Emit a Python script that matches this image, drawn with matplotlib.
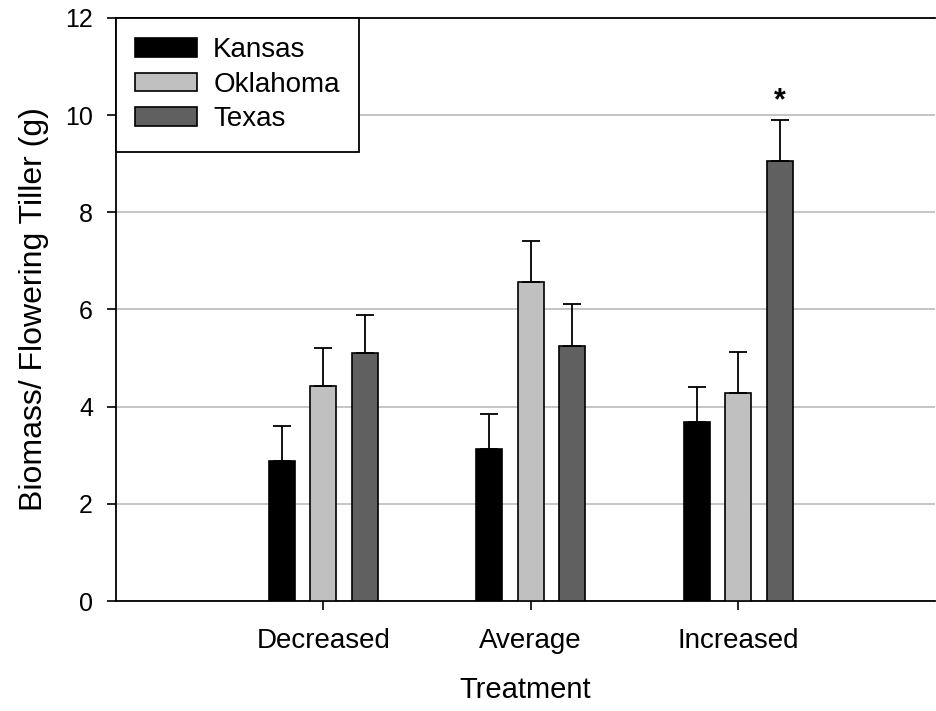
import numpy as np
import matplotlib.pyplot as plt

plt.rcParams['font.family'] = ['Liberation Sans', 'DejaVu Sans']

treatments = ["Decreased", "Average", "Increased"]
states = ["Kansas", "Oklahoma", "Texas"]
colors = ["#000000", "#c0c0c0", "#606060"]

# means and upper error (SE) per state, in treatment order
kansas = [2.89, 3.13, 3.69]
kansas_err = [0.71, 0.72, 0.72]
oklahoma = [4.42, 6.56, 4.28]
oklahoma_err = [0.78, 0.86, 0.85]
texas = [5.11, 5.25, 9.05]
texas_err = [0.77, 0.86, 0.86]

means = [kansas, oklahoma, texas]
errs = [kansas_err, oklahoma_err, texas_err]

fig = plt.figure(figsize=(9.37, 7.11), dpi=100)
ax = fig.add_axes([0.1238, 0.1547, 0.8742, 0.82])

x = np.arange(1, len(treatments) + 1)
width = 0.125
offsets = [-0.2, 0.0, 0.2]
for i in range(3):
    ax.bar(x + offsets[i], means[i], width, color=colors[i], edgecolor="black",
           linewidth=1.2, label=states[i], zorder=3)
    ax.errorbar(x + offsets[i], means[i], yerr=[np.zeros(3), errs[i]], fmt="none",
                ecolor="black", elinewidth=1.3, capsize=6.5, capthick=1.3, zorder=4)

# significance marker
ax.text(x[2] + offsets[2], texas[2] + texas_err[2] + 0.38, "*", ha="center",
        va="center", fontsize=22, fontweight="bold")

ax.set_xlim(0, 3.95)
ax.set_ylim(0, 12)
ax.set_yticks(range(0, 13, 2))
ax.set_xticks(x)
ax.set_xticklabels(treatments)
ax.yaxis.grid(True, color="#c0c0c0", linewidth=1.3, zorder=0)
ax.set_axisbelow(True)
ax.spines["right"].set_visible(False)
ax.spines["top"].set_linewidth(1.3)
ax.spines["left"].set_linewidth(1.3)
ax.spines["bottom"].set_linewidth(1.3)
ax.tick_params(axis="both", direction="out", length=6.5, width=1.2)
ax.tick_params(axis="x", pad=13, labelsize=20)
ax.tick_params(axis="y", pad=10, labelsize=18)
ax.set_ylabel("Biomass/ Flowering Tiller (g)", fontsize=23, labelpad=12)
ax.set_xlabel("Treatment", fontsize=21, labelpad=16)

leg = ax.legend(loc="upper left", fontsize=20, frameon=True, fancybox=False,
                borderaxespad=0, handlelength=2.2, handleheight=0.65,
                borderpad=0.7, labelspacing=0.3, handletextpad=0.6)
leg.get_frame().set_edgecolor("black")
leg.get_frame().set_linewidth(1.3)
leg.get_frame().set_alpha(1)

fig.savefig("out.png", dpi=100)
